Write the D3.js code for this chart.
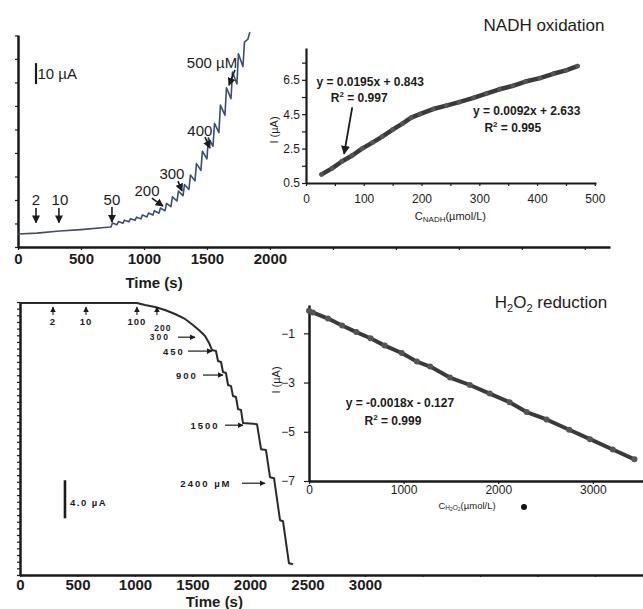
<!DOCTYPE html>
<html>
<head>
<meta charset="utf-8">
<script src="https://cdn.jsdelivr.net/npm/d3@7"></script>
<style>
  body { margin: 0; background: #fff; }
  svg { display: block; }
  text { font-family: "Liberation Sans", Arial, sans-serif; fill: #1c1c1c; }
</style>
</head>
<body>
<div id="chart"></div>
<script>
// ---- data ----

// amperometric trace, NADH additions (time s, current uA)
var nadhTrace = [
  [0,6.2],[150,6.6],[330,7.6],[500,8.3],[730,9.5],
  [738,9.6],[750,11.4],[786,10.6],[798,12.1],[833,11.3],[845,12.8],[881,12.0],[893,13.5],
  [929,12.7],[941,14.2],[976,13.4],[988,15.3],[1024,14.3],[1036,16.2],[1071,15.2],[1083,17.3],
  [1119,16.1],[1131,18.6],[1167,17.2],[1179,20.8],[1214,19.2],[1226,23.9],[1262,21.9],[1274,26.6],
  [1310,24.4],[1322,29.8],[1357,27.4],[1369,34.3],[1405,31.5],[1417,39.7],[1452,36.5],[1464,45.6],
  [1500,42.0],[1512,52.0],[1548,48.0],[1560,58.9],[1595,54.5],[1607,67.6],[1643,62.8],[1655,75.9],
  [1691,70.7],[1703,83.3],[1738,77.7],[1750,92.0],[1786,86.0],[1798,97.6],[1825,99.0],[1841,102.4]
];

// amperometric trace, H2O2 additions (time s, current uA)
var h2o2Trace = [
  [0,0],[1017,0],[1087,-0.21],[1174,-0.42],[1261,-0.74],[1348,-1.16],[1435,-1.68],[1504,-2.32],
  [1565,-2.95],[1609,-3.47],[1644,-4.21],[1670,-4.95],[1704,-5.05],[1722,-6.11],[1748,-6.21],
  [1765,-7.26],[1791,-7.37],[1809,-8.63],[1835,-8.74],[1852,-9.79],[1878,-9.89],[1896,-11.16],
  [1922,-11.26],[1939,-12.63],[2061,-12.74],[2096,-15.37],[2139,-15.47],[2174,-18.32],[2209,-18.42],
  [2261,-22.84],[2287,-22.95],[2339,-27.37],[2374,-27.47]
];

// calibration, NADH (umol/L, uA)
var nadhConc    = [27,45,62,80,97,115,132,150,167,182,197,220,243,265,290,312,335,358,380,405,428,450,470];
var nadhCurrent = [1.0,1.35,1.75,2.1,2.5,2.85,3.2,3.6,3.95,4.3,4.5,4.8,5.0,5.2,5.45,5.7,5.95,6.15,6.4,6.6,6.85,7.05,7.3];

// calibration, H2O2 (umol/L, uA)
var h2o2Conc    = [0,40,200,350,500,650,800,980,1140,1280,1490,1700,1910,2120,2300,2510,2750,2970,3210,3440];
var h2o2Current = [-0.08,-0.15,-0.4,-0.68,-0.95,-1.2,-1.5,-1.8,-2.15,-2.35,-2.8,-3.1,-3.45,-3.8,-4.2,-4.5,-4.92,-5.3,-5.72,-6.12];

// tick labels
var timeTicksTop = [0,500,1000,1500,2000];
var timeTicksBottom = [0,500,1000,1500,2000,2500,3000];
var nadhCTicks = [0,100,200,300,400,500];
var nadhITicks = [0.5,2.5,4.5,6.5];
var h2o2CTicks = [0,1000,2000,3000];
var h2o2ITicks = [-1,-3,-5,-7];

// ---- drawing ----
var svg = d3.select("#chart").append("svg")
    .attr("width", 643)
    .attr("height", 609);

svg.append("defs").append("marker")
    .attr("id", "ah")
    .attr("viewBox", "0 0 10 10")
    .attr("refX", 9).attr("refY", 5)
    .attr("markerWidth", 5).attr("markerHeight", 5)
    .attr("orient", "auto")
  .append("path")
    .attr("d", "M0,0L10,5L0,10z")
    .attr("fill", "#1c1c1c");

function styleAxis(g, w, fs, bold) {
  g.select(".domain").attr("stroke", "#1a1a1a").attr("stroke-width", w);
  g.selectAll(".tick line").attr("stroke", "#1a1a1a").attr("stroke-width", 1.2);
  g.selectAll(".tick text")
      .attr("font-size", fs)
      .attr("font-weight", bold ? "bold" : "normal")
      .attr("fill", "#1c1c1c")
      .style("font-family", "'Liberation Sans', Arial, sans-serif");
}

// ===== top left: NADH amperometry =====
var xA = d3.scaleLinear().domain([0, 4700]).range([18, 610]);
var yA = d3.scaleLinear().domain([0, 101]).range([247, 35]);

svg.append("g")
    .attr("transform", "translate(0,247)")
    .call(d3.axisBottom(xA).tickValues(d3.range(0, 4700, 500))
      .tickSize(3).tickSizeOuter(0).tickPadding(3)
      .tickFormat(function(d) { return timeTicksTop.indexOf(d) >= 0 ? d : ""; }))
    .call(styleAxis, 2.5, 15, true);

svg.append("g")
    .attr("transform", "translate(18,0)")
    .call(d3.axisLeft(yA).tickValues(d3.range(0, 101, 11.2))
      .tickSize(3).tickSizeOuter(0).tickFormat(""))
    .call(styleAxis, 2.5, 10, false);

svg.append("text")
    .attr("x", xA(1080)).attr("y", 282)
    .attr("text-anchor", "middle").attr("dominant-baseline", "central")
    .attr("font-size", 15).attr("font-weight", "bold")
    .text("Time (s)");

svg.append("path")
    .datum(nadhTrace)
    .attr("fill", "none")
    .attr("stroke", "#3e4d75")
    .attr("stroke-width", 1.6)
    .attr("stroke-linejoin", "round")
    .attr("d", d3.line().x(function(d) { return xA(d[0]); }).y(function(d) { return yA(d[1]); }));

// scale bar 10 uA
svg.append("line")
    .attr("x1", xA(143)).attr("x2", xA(143))
    .attr("y1", yA(77.6)).attr("y2", yA(87.6))
    .attr("stroke", "#1a1a1a").attr("stroke-width", 2.2);
svg.append("text")
    .attr("x", xA(155)).attr("y", yA(82.6))
    .attr("dominant-baseline", "central")
    .attr("font-size", 15)
    .text("10 \u00b5A");

var annA = [
  {label: "2",      tx: 143,  ti: 22.4, a: [143, 18.6, 143, 11.6]},
  {label: "10",     tx: 333,  ti: 22.4, a: [325, 18.6, 325, 11.6]},
  {label: "50",     tx: 746,  ti: 22.4, a: [746, 19.0, 746, 11.9]},
  {label: "200",    tx: 1024, ti: 27.1, a: [1063, 23.3, 1151, 19.5]},
  {label: "300",    tx: 1222, ti: 35.2, a: [1270, 31.4, 1302, 26.7]},
  {label: "400",    tx: 1444, ti: 55.7, a: [1484, 52.4, 1524, 47.1]},
  {label: "500 \u00b5M", tx: 1540, ti: 88.1, a: [1722, 84.3, 1675, 77.1]}
];
annA.forEach(function(d) {
  svg.append("text")
      .attr("x", xA(d.tx)).attr("y", yA(d.ti))
      .attr("text-anchor", "middle").attr("dominant-baseline", "central")
      .attr("font-size", 15)
      .text(d.label);
  svg.append("line")
      .attr("x1", xA(d.a[0])).attr("y1", yA(d.a[1]))
      .attr("x2", xA(d.a[2])).attr("y2", yA(d.a[3]))
      .attr("stroke", "#1c1c1c").attr("stroke-width", 1.6)
      .attr("marker-end", "url(#ah)");
});

// ===== top right: NADH calibration =====
var xN = d3.scaleLinear().domain([0, 502]).range([306, 596]);
var yN = d3.scaleLinear().domain([0.5, 8.35]).range([183, 48]);

svg.append("g")
    .attr("transform", "translate(0,183)")
    .call(d3.axisBottom(xN).tickValues(d3.range(0, 501, 50))
      .tickSize(3).tickSizeOuter(0).tickPadding(8)
      .tickFormat(function(d) { return nadhCTicks.indexOf(d) >= 0 ? d : ""; }))
    .call(styleAxis, 2.2, 12, false);

svg.append("g")
    .attr("transform", "translate(306,0)")
    .call(d3.axisLeft(yN).tickValues(d3.range(0.5, 8, 1))
      .tickSize(4).tickSizeOuter(0).tickPadding(2)
      .tickFormat(function(d) { return nadhITicks.indexOf(d) >= 0 ? d : ""; }))
    .call(styleAxis, 2.2, 12, false);

var nadhPts = nadhConc.map(function(c, i) { return [c, nadhCurrent[i]]; });
svg.append("path")
    .datum(nadhPts)
    .attr("fill", "none")
    .attr("stroke", "#3a3a3a")
    .attr("stroke-width", 4.5)
    .attr("stroke-linejoin", "round")
    .attr("stroke-linecap", "round")
    .attr("d", d3.line().x(function(d) { return xN(d[0]); }).y(function(d) { return yN(d[1]); }));
svg.selectAll(".nadhDot")
    .data(nadhPts)
  .enter().append("circle")
    .attr("cx", function(d) { return xN(d[0]); })
    .attr("cy", function(d) { return yN(d[1]); })
    .attr("r", 2.4)
    .attr("fill", "#555");

svg.append("text")
    .attr("transform", "translate(274,130) rotate(-90)")
    .attr("text-anchor", "middle").attr("dominant-baseline", "central")
    .attr("font-size", 11)
    .text("I (\u00b5A)");

var cN = svg.append("text")
    .attr("x", xN(250)).attr("y", 216)
    .attr("text-anchor", "middle").attr("dominant-baseline", "central")
    .attr("font-size", 11);
cN.append("tspan").text("C");
cN.append("tspan").attr("font-size", 8).attr("dy", 3).text("NADH");
cN.append("tspan").attr("dy", -3).text("(\u00b5mol/L)");

svg.append("text")
    .attr("x", 544).attr("y", 25)
    .attr("text-anchor", "middle").attr("dominant-baseline", "central")
    .attr("font-size", 17)
    .text("NADH oxidation");

function eq(x, y, main) {
  svg.append("text")
      .attr("x", x).attr("y", y)
      .attr("text-anchor", "middle").attr("dominant-baseline", "central")
      .attr("font-size", 12).attr("font-weight", "bold")
      .text(main);
}
function r2(x, y, val) {
  var t = svg.append("text")
      .attr("x", x).attr("y", y)
      .attr("text-anchor", "middle").attr("dominant-baseline", "central")
      .attr("font-size", 12).attr("font-weight", "bold");
  t.append("tspan").text("R");
  t.append("tspan").attr("font-size", 8).attr("dy", -4).text("2");
  t.append("tspan").attr("dy", 4).text(" = " + val);
}
eq(xN(111), yN(6.38), "y = 0.0195x + 0.843");
r2(xN(92), yN(5.45), "0.997");
eq(xN(382), yN(4.7), "y = 0.0092x + 2.633");
r2(xN(358), yN(3.72), "0.995");
svg.append("line")
    .attr("x1", xN(80)).attr("y1", yN(4.9))
    .attr("x2", xN(66)).attr("y2", yN(2.19))
    .attr("stroke", "#1c1c1c").attr("stroke-width", 1.8)
    .attr("marker-end", "url(#ah)");

// ===== bottom left: H2O2 amperometry =====
var xC = d3.scaleLinear().domain([0, 5450]).range([20, 646.75]);
var yC = d3.scaleLinear().domain([0.1, -28.6]).range([302, 575]);

svg.append("g")
    .attr("transform", "translate(0,575)")
    .call(d3.axisBottom(xC).tickValues(d3.range(0, 5001, 500))
      .tickSize(2).tickSizeOuter(0).tickPadding(2)
      .tickFormat(function(d) { return timeTicksBottom.indexOf(d) >= 0 ? d : ""; }))
    .call(styleAxis, 2.5, 15, true);

svg.append("g")
    .attr("transform", "translate(20,0)")
    .call(d3.axisLeft(yC).tickValues(d3.range(0.1, -28.6, -0.7))
      .tickSize(3).tickSizeOuter(0).tickFormat(""))
    .call(styleAxis, 2.5, 10, false);

svg.append("text")
    .attr("x", xC(1690)).attr("y", 601)
    .attr("text-anchor", "middle").attr("dominant-baseline", "central")
    .attr("font-size", 15).attr("font-weight", "bold")
    .text("Time (s)");

svg.append("path")
    .datum(h2o2Trace)
    .attr("fill", "none")
    .attr("stroke", "#2a2a2a")
    .attr("stroke-width", 2)
    .attr("stroke-linejoin", "round")
    .attr("d", d3.line().x(function(d) { return xC(d[0]); }).y(function(d) { return yC(d[1]); }));

// scale bar 4.0 uA
svg.append("line")
    .attr("x1", xC(391)).attr("x2", xC(391))
    .attr("y1", yC(-18.64)).attr("y2", yC(-22.64))
    .attr("stroke", "#1a1a1a").attr("stroke-width", 2.6);
svg.append("text")
    .attr("x", xC(435)).attr("y", yC(-20.95))
    .attr("dominant-baseline", "central")
    .attr("font-size", 9.5).attr("font-weight", "bold")
    .attr("letter-spacing", 1.5)
    .text("4.0 \u00b5A");

// small up arrows
var upArrows = [[287, "2"], [574, "10"], [1017, "100"], [1191, ""]];
upArrows.forEach(function(d) {
  svg.append("line")
      .attr("x1", xC(d[0])).attr("y1", yC(-1.27))
      .attr("x2", xC(d[0])).attr("y2", yC(-0.43))
      .attr("stroke", "#1c1c1c").attr("stroke-width", 1.1)
      .attr("marker-end", "url(#ah)");
  if (d[1]) {
    svg.append("text")
        .attr("x", xC(d[0])).attr("y", yC(-1.9))
        .attr("text-anchor", "middle").attr("dominant-baseline", "central")
        .attr("font-size", 9.5).attr("font-weight", "bold")
        .attr("letter-spacing", 1)
        .text(d[1]);
  }
});
svg.append("text")
    .attr("x", xC(1243)).attr("y", yC(-2.6))
    .attr("text-anchor", "middle").attr("dominant-baseline", "central")
    .attr("font-size", 8.5).attr("font-weight", "bold")
    .attr("letter-spacing", 1)
    .text("200");

var annC = [
  {label: "300",         tx: 1217, ti: -3.6,   a0: 1374, a1: 1522},
  {label: "450",         tx: 1339, ti: -5.06,  a0: 1461, a1: 1670},
  {label: "900",         tx: 1452, ti: -7.58,  a0: 1591, a1: 1765},
  {label: "1500",        tx: 1609, ti: -12.85, a0: 1783, a1: 1939},
  {label: "2400 \u00b5M", tx: 1617, ti: -18.95, a0: 1930, a1: 2130}
];
annC.forEach(function(d) {
  svg.append("text")
      .attr("x", xC(d.tx)).attr("y", yC(d.ti))
      .attr("text-anchor", "middle").attr("dominant-baseline", "central")
      .attr("font-size", d.ti > -4 ? 8.5 : 9.5).attr("font-weight", "bold")
      .attr("letter-spacing", 2)
      .text(d.label);
  svg.append("line")
      .attr("x1", xC(d.a0)).attr("y1", yC(d.ti))
      .attr("x2", xC(d.a1)).attr("y2", yC(d.ti))
      .attr("stroke", "#1c1c1c").attr("stroke-width", 1.2)
      .attr("marker-end", "url(#ah)");
});

// ===== bottom right: H2O2 calibration =====
var xH = d3.scaleLinear().domain([0, 3530]).range([309, 643]);
var yH = d3.scaleLinear().domain([0.15, -7]).range([305, 481]);

svg.append("g")
    .attr("transform", "translate(0,481)")
    .call(d3.axisBottom(xH).tickValues(h2o2CTicks)
      .tickSize(3).tickSizeOuter(0).tickPadding(1)
      .tickFormat(d3.format("d")))
    .call(styleAxis, 2.5, 12, false);

svg.append("g")
    .attr("transform", "translate(309,0)")
    .call(d3.axisLeft(yH).tickValues(h2o2ITicks)
      .tickSize(5).tickSizeOuter(0).tickPadding(9))
    .call(styleAxis, 2.5, 12, false);

var h2o2Pts = h2o2Conc.map(function(c, i) { return [c, h2o2Current[i]]; });
svg.append("path")
    .datum(h2o2Pts)
    .attr("fill", "none")
    .attr("stroke", "#3a3a3a")
    .attr("stroke-width", 4)
    .attr("stroke-linejoin", "round")
    .attr("stroke-linecap", "round")
    .attr("d", d3.line().x(function(d) { return xH(d[0]); }).y(function(d) { return yH(d[1]); }));
svg.selectAll(".h2o2Dot")
    .data(h2o2Pts)
  .enter().append("circle")
    .attr("cx", function(d) { return xH(d[0]); })
    .attr("cy", function(d) { return yH(d[1]); })
    .attr("r", 3)
    .attr("fill", "#555");

svg.append("text")
    .attr("transform", "translate(276,380) rotate(-90)")
    .attr("text-anchor", "middle").attr("dominant-baseline", "central")
    .attr("font-size", 11)
    .text("I (\u00b5A)");

var cH = svg.append("text")
    .attr("x", 467).attr("y", 505)
    .attr("text-anchor", "middle").attr("dominant-baseline", "central")
    .attr("font-size", 9.5).attr("fill", "#333");
cH.append("tspan").text("C");
cH.append("tspan").attr("font-size", 6.5).attr("dy", 2).text("H");
cH.append("tspan").attr("font-size", 5).attr("dy", 1.5).text("2");
cH.append("tspan").attr("font-size", 6.5).attr("dy", -1.5).text("O");
cH.append("tspan").attr("font-size", 5).attr("dy", 1.5).text("2");
cH.append("tspan").attr("dy", -3.5).text("(\u00b5mol/L)");
svg.append("circle").attr("cx", 524).attr("cy", 507).attr("r", 3).attr("fill", "#111");

var tH = svg.append("text")
    .attr("x", 551).attr("y", 302)
    .attr("text-anchor", "middle").attr("dominant-baseline", "central")
    .attr("font-size", 17);
tH.append("tspan").text("H");
tH.append("tspan").attr("font-size", 11).attr("dy", 6).text("2");
tH.append("tspan").attr("dy", -6).text("O");
tH.append("tspan").attr("font-size", 11).attr("dy", 6).text("2");
tH.append("tspan").attr("dy", -6).text(" reduction");

eq(xH(961), yH(-3.83), "y = -0.0018x - 0.127");
r2(xH(887), yH(-4.55), "0.999");
</script>
</body>
</html>
